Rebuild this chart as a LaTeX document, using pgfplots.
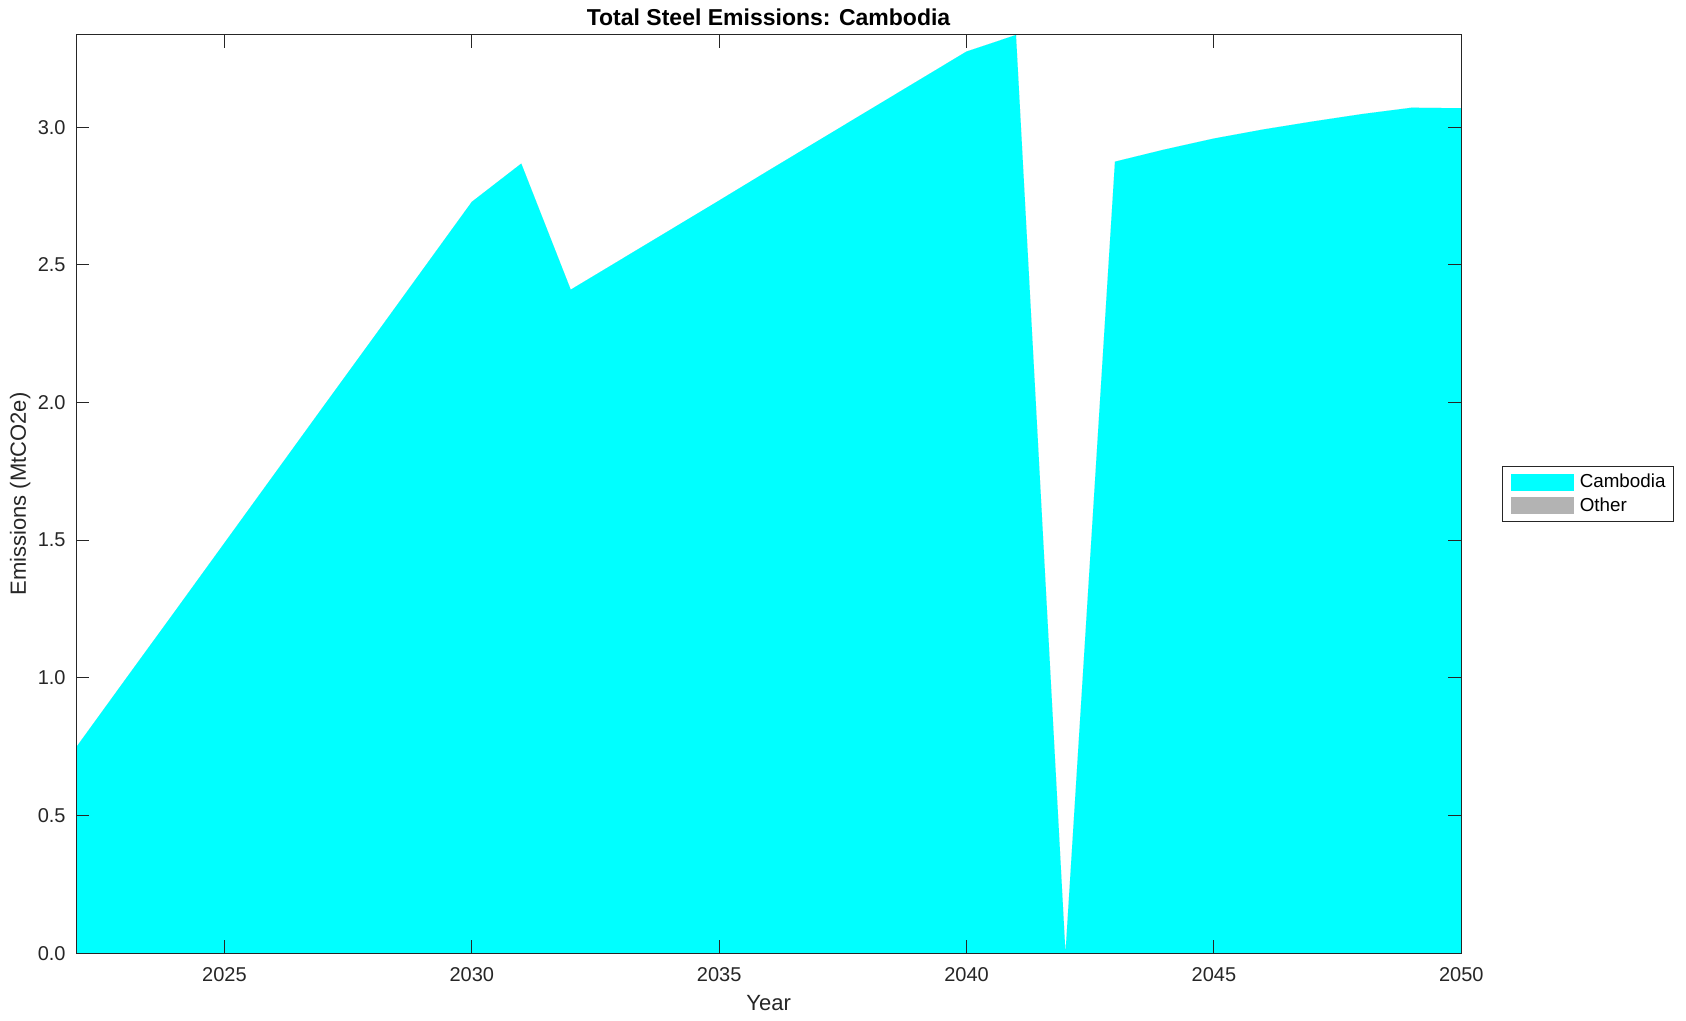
\documentclass[border=0pt]{standalone}
\usepackage{fontspec}
\setmainfont{Liberation Sans}
\usepackage{pgfplots}
\pgfplotsset{compat=1.18}
\definecolor{axgray}{RGB}{38,38,38}
\definecolor{cyanrgb}{RGB}{0,255,255}
\definecolor{othergray}{RGB}{179,179,179}
\begin{document}
\begin{tikzpicture}
\begin{axis}[name=ax,
  scale only axis, width=692.5pt, height=459pt,
  xmin=2022, xmax=2050, ymin=0, ymax=3.335,
  xtick={2025,2030,2035,2040,2045,2050},
  ytick={0,0.5,1.0,1.5,2.0,2.5,3.0},
  /pgf/number format/assume math mode=true,
  x tick label style={/pgf/number format/1000 sep={}, anchor=base, yshift=-14pt},
  y tick label style={/pgf/number format/.cd, fixed, fixed zerofill, precision=1, /tikz/.cd, anchor=east, inner sep=0pt, xshift=-5pt},
  tick label style={font=\fontsize{10}{12}\selectfont, text=axgray},
  tick align=inside, major tick length=6.5pt,
  tick style={axgray, line width=0.5pt},
  axis line style={axgray, line width=0.5pt},
  axis on top,
  stack plots=y,
  every axis title shift=4.5pt,
  title={\textbf{Total Steel Emissions: Cambodia}},
  title style={font=\fontsize{11.5}{13}\selectfont, at={(axis description cs:0.5,1)}, anchor=base, inner sep=0pt},
  xlabel={Year}, ylabel={Emissions (MtCO2e)},
  label style={font=\fontsize{11}{13}\selectfont, text=axgray},
  xlabel style={at={(axis description cs:0.5,0)}, anchor=base, yshift=-28.5pt, inner sep=0pt},
  ylabel style={at={(axis description cs:-0.0361,0.5)}, anchor=base, inner sep=0pt},
  legend style={at={(axis description cs:1,0.5)}, anchor=west, xshift=20.5pt,
    draw=axgray, line width=0.5pt, text=black,
    font=\fontsize{9.4}{11}\selectfont, inner xsep=4pt, inner ysep=3.5pt,
    nodes={inner sep=0pt}, column sep=3pt, row sep=3.35pt},
  legend cell align=left,
]
\addplot[fill=cyanrgb, draw=none,
  legend image code/.code={\fill[cyanrgb] (0pt,-4.25pt) rectangle (31.5pt,4.25pt);}]
coordinates {
(2022,0.747) (2023,0.995) (2024,1.242) (2025,1.490) (2026,1.738) (2027,1.986)
(2028,2.233) (2029,2.481) (2030,2.729) (2031,2.868) (2032,2.410) (2033,2.518)
(2034,2.626) (2035,2.734) (2036,2.843) (2037,2.951) (2038,3.059) (2039,3.167)
(2040,3.275) (2041,3.335) (2042,0.0) (2043,2.875) (2044,2.919) (2045,2.959)
(2046,2.992) (2047,3.021) (2048,3.048) (2049,3.071) (2050,3.069)
} \closedcycle;
\addlegendentry{Cambodia}
\addplot[fill=othergray, draw=none,
  legend image code/.code={\fill[othergray] (0pt,-4.25pt) rectangle (31.5pt,4.25pt);}]
coordinates {
(2022,0) (2023,0) (2024,0) (2025,0) (2026,0) (2027,0)
(2028,0) (2029,0) (2030,0) (2031,0) (2032,0) (2033,0)
(2034,0) (2035,0) (2036,0) (2037,0) (2038,0) (2039,0)
(2040,0) (2041,0) (2042,0) (2043,0) (2044,0) (2045,0)
(2046,0) (2047,0) (2048,0) (2049,0) (2050,0)
} \closedcycle;
\addlegendentry{Other}
\end{axis}
\path ([xshift=-38pt,yshift=-33.85pt]ax.south west) rectangle ([xshift=112.35pt,yshift=17.5pt]ax.north east);
\end{tikzpicture}
\end{document}
